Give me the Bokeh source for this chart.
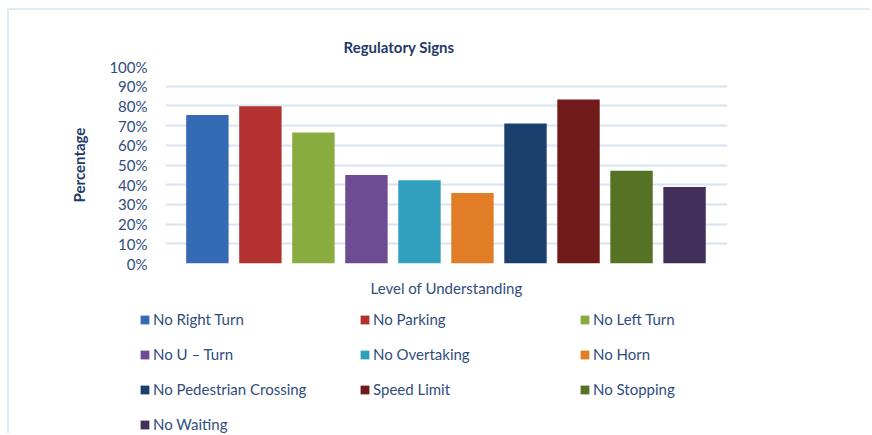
from bokeh.plotting import figure
from bokeh.models import (ColumnDataSource, Range1d, FixedTicker, PrintfTickFormatter,
                          Legend, LegendItem)
from bokeh.embed import file_html
from bokeh.resources import INLINE

categories = ["No Right Turn", "No Parking", "No Left Turn", "No U \u2013 Turn",
              "No Overtaking", "No Horn", "No Pedestrian Crossing", "Speed Limit",
              "No Stopping", "No Waiting"]
values = [75.4, 79.8, 66.5, 44.9, 42.2, 35.8, 71.1, 83.2, 47.1, 38.8]
colors = ["#356bb5", "#b3322f", "#88ac40", "#6e4c94", "#31a0be",
          "#e27d27", "#1b406e", "#711a1a", "#567224", "#43305a"]
y_ticks = [0, 10, 20, 30, 40, 50, 60, 70, 80, 90, 100]

TEXT = "#304d7e"
DARK = "#1f3a68"
FONT = "Lato"
EDGE = "2px solid #e2eaf5"

src = ColumnDataSource(dict(x=list(range(len(categories))), top=values,
                            cat=categories, color=colors))

p = figure(width=863, height=290, output_backend="svg", toolbar_location=None,
           x_range=Range1d(-0.79, 9.81), y_range=Range1d(0, 100),
           min_border_left=156, min_border_right=145,
           min_border_top=56, min_border_bottom=37)
p.styles = {"margin-top": "8px", "margin-left": "7px",
            "border-top": EDGE, "border-left": EDGE}

p.vbar(x="x", top="top", width=0.8, source=src, fill_color="color", line_color=None)

p.outline_line_color = None
p.xgrid.grid_line_color = None
p.ygrid.grid_line_color = "#d9e4f3"
p.ygrid.grid_line_width = 2
p.ygrid.ticker = FixedTicker(ticks=y_ticks)

ya = p.yaxis[0]
ya.ticker = FixedTicker(ticks=y_ticks)
ya.formatter = PrintfTickFormatter(format="%d%%")
ya.axis_line_color = None
ya.major_tick_line_color = None
ya.minor_tick_line_color = None
ya.major_label_text_font = FONT
ya.major_label_text_font_size = "15px"
ya.major_label_text_color = TEXT
ya.major_label_standoff = 12
ya.axis_label = "Percentage"
ya.axis_label_text_font = FONT
ya.axis_label_text_font_size = "15px"
ya.axis_label_text_font_style = "bold"
ya.axis_label_text_color = DARK
ya.axis_label_standoff = 18

xa = p.xaxis[0]
xa.ticker = FixedTicker(ticks=[])
xa.axis_line_color = None
xa.major_tick_line_color = None
xa.minor_tick_line_color = None
xa.axis_label = "Level of Understanding"
xa.axis_label_text_font = FONT
xa.axis_label_text_font_size = "15px"
xa.axis_label_text_font_style = "normal"
xa.axis_label_text_color = TEXT
xa.axis_label_standoff = 15

p.title.text = "Regulatory Signs"
p.title.align = "left"
p.title.offset = 178
p.title.text_font = FONT
p.title.text_font_size = "15px"
p.title.text_font_style = "bold"
p.title.text_color = DARK
p.title.standoff = 22

# legend panel (separate root so its frame is not aligned with the chart's frame)
p2 = figure(width=863, height=135, output_backend="svg", toolbar_location=None,
            x_range=Range1d(-0.79, 9.81), y_range=Range1d(1000, 2000),
            x_axis_type=None, y_axis_type=None,
            min_border_left=0, min_border_right=0, min_border_top=0, min_border_bottom=0)
p2.styles = {"margin-left": "7px", "border-left": EDGE}
p2.outline_line_color = None
r2 = p2.vbar(x="x", top="top", width=0.8, source=src, fill_color="color", line_color=None)

items = [LegendItem(label=c, renderers=[r2], index=i) for i, c in enumerate(categories)]
lg = Legend(items=items, location=(130, -1), orientation="horizontal", ncols=3,
            padding=0, margin=0, border_line_color=None, background_fill_alpha=0,
            glyph_width=11, glyph_height=11, label_standoff=3,
            label_width=191, label_height=20, spacing=15,
            label_text_font=FONT, label_text_font_size="15px",
            label_text_color=TEXT)
p2.add_layout(lg, "center")

open("out.html", "w").write(file_html([p, p2], INLINE))
